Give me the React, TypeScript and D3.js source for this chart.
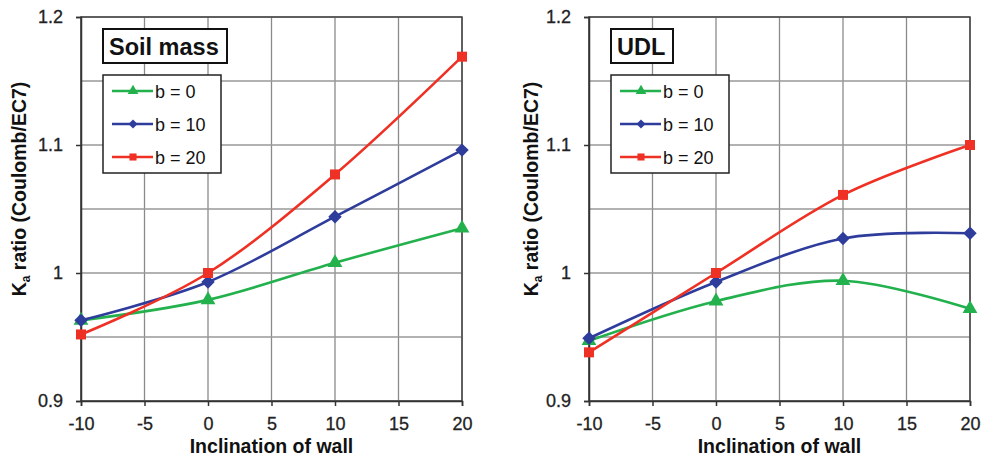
import React, { useEffect, useRef } from "react";
import * as d3 from "d3";

// inclination of wall (deg)
const inclination = [-10, 0, 10, 20];

// Soil mass panel
const soilB0 = [0.963, 0.979, 1.008, 1.035];
const soilB10 = [0.963, 0.993, 1.044, 1.096];
const soilB20 = [0.952, 1.0, 1.077, 1.169];

// UDL panel
const udlB0 = [0.947, 0.978, 0.994, 0.972];
const udlB10 = [0.949, 0.993, 1.027, 1.031];
const udlB20 = [0.938, 1.0, 1.061, 1.1];

const seriesNames = ["b = 0", "b = 10", "b = 20"];
const seriesColors = ["#22b14c", "#2e3c9c", "#ee3124"];
const seriesShapes = [d3.symbolTriangle, d3.symbolSquare, d3.symbolSquare];
const seriesRotate = [0, 45, 0];
const seriesSizes = [95, 90, 100];

const xTicks = [-10, -5, 0, 5, 10, 15, 20];
const yTicks = [0.9, 1, 1.1, 1.2];
const yMinor = [0.95, 1.05, 1.15];

const FONT = "'Liberation Sans', Arial, sans-serif";

const App = () => {
  const ref = useRef<SVGSVGElement>(null);

  useEffect(() => {
    const svg = d3.select(ref.current);
    svg.selectAll("*").remove();

    const panels = [
      { left: 81, right: 462, title: "Soil mass", titleW: 124, ylabX: 26, data: [soilB0, soilB10, soilB20] },
      { left: 589, right: 970, title: "UDL", titleW: 62, ylabX: 538, data: [udlB0, udlB10, udlB20] },
    ];
    const top = 17, bottom = 401;

    panels.forEach((p) => {
      const g = svg.append("g");
      const x = d3.scaleLinear().domain([-10, 20]).range([p.left, p.right]);
      const y = d3.scaleLinear().domain([0.9, 1.2]).range([bottom, top]);

      // grid
      g.selectAll(".vg").data(xTicks).enter().append("line")
        .attr("x1", (d) => x(d)).attr("x2", (d) => x(d))
        .attr("y1", top).attr("y2", bottom)
        .attr("stroke", "#8a8a8a").attr("stroke-width", 1.3);
      g.selectAll(".hg").data([...yTicks, ...yMinor]).enter().append("line")
        .attr("x1", p.left).attr("x2", p.right)
        .attr("y1", (d) => y(d)).attr("y2", (d) => y(d))
        .attr("stroke", "#999").attr("stroke-width", 1.3);

      // frame
      g.append("rect").attr("x", p.left).attr("y", top)
        .attr("width", p.right - p.left).attr("height", bottom - top)
        .attr("fill", "none").attr("stroke", "#444").attr("stroke-width", 1.5);

      // axes
      const xAxis = g.append("g").attr("transform", `translate(0,${bottom})`)
        .call(d3.axisBottom(x).tickValues(xTicks).tickSize(5).tickPadding(11).tickFormat((d) => String(+d)));
      const yAxis = g.append("g").attr("transform", `translate(${p.left},0)`)
        .call(d3.axisLeft(y).tickValues(yTicks).tickSize(5).tickPadding(13).tickFormat((d) => String(+d)));
      [xAxis, yAxis].forEach((a) => {
        a.select(".domain").attr("stroke", "#333").attr("stroke-width", 1.5);
        a.selectAll(".tick line").attr("stroke", "#333").attr("stroke-width", 1.5);
        a.selectAll("text").attr("font-family", FONT).attr("font-size", 18).attr("fill", "#222")
          .attr("stroke", "#222").attr("stroke-width", 0.3);
      });

      // axis titles
      g.append("text").attr("x", (p.left + p.right) / 2).attr("y", 453)
        .attr("text-anchor", "middle").attr("font-family", FONT).attr("font-size", 19.5)
        .attr("font-weight", "bold").attr("fill", "#111").text("Inclination of wall");
      const yl = g.append("text")
        .attr("transform", `translate(${p.ylabX},189) rotate(-90)`)
        .attr("text-anchor", "middle").attr("font-family", FONT).attr("font-size", 19.5)
        .attr("font-weight", "bold").attr("fill", "#111");
      yl.append("tspan").text("K");
      yl.append("tspan").attr("font-size", 12).attr("dy", 4).text("a");
      yl.append("tspan").attr("dy", -4).text(" ratio (Coulomb/EC7)");

      // series
      const line = d3.line<number>()
        .x((_, i) => x(inclination[i]))
        .y((d) => y(d))
        .curve(d3.curveCardinal.tension(0));
      p.data.forEach((vals, si) => {
        g.append("path").attr("d", line(vals)).attr("fill", "none")
          .attr("stroke", seriesColors[si]).attr("stroke-width", 2.6);
        g.selectAll(`.m${si}`).data(vals).enter().append("path")
          .attr("transform", (d, i) => `translate(${x(inclination[i])},${y(d)}) rotate(${seriesRotate[si]})`)
          .attr("d", d3.symbol().type(seriesShapes[si]).size(seriesSizes[si])())
          .attr("fill", seriesColors[si]);
      });

      // title box
      const bx = p.left + 22;
      g.append("rect").attr("x", bx).attr("y", 29).attr("width", p.titleW).attr("height", 34)
        .attr("fill", "#fff").attr("stroke", "#111").attr("stroke-width", 2);
      g.append("text").attr("x", bx + 6).attr("y", 55).attr("font-family", FONT)
        .attr("font-size", 23.5).attr("font-weight", "bold").attr("fill", "#111").text(p.title);

      // legend
      g.append("rect").attr("x", bx).attr("y", 75).attr("width", 118).attr("height", 98)
        .attr("fill", "#fff").attr("stroke", "#222").attr("stroke-width", 1.5);
      seriesNames.forEach((name, si) => {
        const ly = 91 + si * 33;
        g.append("line").attr("x1", bx + 9).attr("x2", bx + 50).attr("y1", ly).attr("y2", ly)
          .attr("stroke", seriesColors[si]).attr("stroke-width", 2.6);
        g.append("path").attr("transform", `translate(${bx + 30},${ly}) rotate(${seriesRotate[si]})`)
          .attr("d", d3.symbol().type(seriesShapes[si]).size(si === 1 ? 40 : 50)())
          .attr("fill", seriesColors[si]);
        g.append("text").attr("x", bx + 52).attr("y", ly + 6.5).attr("font-family", FONT)
          .attr("font-size", 18).attr("fill", "#111").text(name);
      });
    });
  }, []);

  return (
    <svg ref={ref} width={982} height={458}
      style={{ position: "absolute", left: 0, top: 0, background: "#fff" }} />
  );
};

export default App;
